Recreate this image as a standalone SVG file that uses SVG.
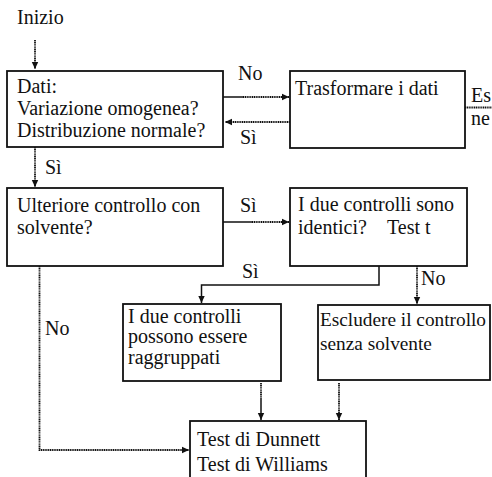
<svg xmlns="http://www.w3.org/2000/svg" width="492" height="477" viewBox="0 0 492 477" font-family="'Liberation Serif', 'DejaVu Serif', serif" font-size="20">
<style>
text{font-family:'Liberation Serif','DejaVu Serif',serif;font-size:20px;fill:#111}
.sm{font-size:19.3px}
.box{fill:#fff;stroke:#111;stroke-width:1.8}
.dot{fill:none;stroke:#111;stroke-width:1.8;stroke-dasharray:1.2 0.6}
.sol{fill:none;stroke:#111;stroke-width:1.5}
</style>
<defs>
<marker id="ah" markerUnits="userSpaceOnUse" markerWidth="8" markerHeight="8" refX="7" refY="4" orient="auto">
<path d="M0,0.8 L7,4 L0,7.2 z" fill="#111"/>
</marker>
</defs>
<text x="17" y="24">Inizio</text>
<g id="connectors">
<path class="dot" d="M35,40 V69" marker-end="url(#ah)"/>
<path class="sol" d="M223,97 H243"/>
<path class="dot" d="M243,97 H289" marker-end="url(#ah)"/>
<path class="dot" d="M290,122 H225" marker-end="url(#ah)"/>
<path class="dot" d="M465,107.5 H492"/>
<path class="dot" d="M35,147 V187" marker-end="url(#ah)"/>
<path class="sol" d="M223,222 H252"/>
<path class="dot" d="M252,222 H289" marker-end="url(#ah)"/>
<path class="sol" d="M379,266 V285 H201.5 V303" marker-end="url(#ah)"/>
<path class="dot" d="M417,266 V304" marker-end="url(#ah)"/>
<path class="dot" d="M39.5,266 V450 H189" marker-end="url(#ah)"/>
<path class="dot" d="M261,383 V398"/>
<path class="sol" d="M261,398 V420" marker-end="url(#ah)"/>
<path class="dot" d="M339,383 V420" marker-end="url(#ah)"/>
<text x="238" y="80">No</text>
<text x="240" y="144">Sì</text>
<text x="471" y="102">Es</text>
<text x="471" y="125">ne</text>
<text x="45" y="174">Sì</text>
<text x="240" y="212">Sì</text>
<text x="242" y="278">Sì</text>
<text x="421" y="285">No</text>
<text x="45" y="335">No</text>
</g>
<g id="dati">
<rect class="box" x="7" y="71" width="216" height="76"/>
<text x="17" y="93">Dati:</text>
<text x="17" y="115">Variazione omogenea?</text>
<text x="17" y="137">Distribuzione normale?</text>
</g>
<g id="trasformare">
<rect class="box" x="290" y="71" width="175" height="77"/>
<text x="295" y="95">Trasformare i dati</text>
</g>
<g id="ulteriore">
<rect class="box" x="7" y="188" width="216" height="78"/>
<text x="17" y="212">Ulteriore controllo con</text>
<text x="17" y="234">solvente?</text>
</g>
<g id="identici">
<rect class="box" x="290" y="188" width="177" height="78"/>
<text x="298" y="211">I due controlli sono</text>
<text x="298" y="234">identici?</text>
<text x="387" y="234">Test t</text>
</g>
<g id="raggruppati">
<rect class="box" x="123" y="304" width="158" height="77"/>
<text x="128" y="323">I due controlli</text>
<text x="128" y="343">possono essere</text>
<text x="128" y="364">raggruppati</text>
</g>
<g id="escludere">
<rect class="box" x="318" y="305" width="172" height="75"/>
<text class="sm" x="320" y="326">Escludere il controllo</text>
<text class="sm" x="320" y="350">senza solvente</text>
</g>
<g id="test">
<rect class="box" x="190" y="421" width="176" height="70"/>
<text x="197" y="446">Test di Dunnett</text>
<text x="197" y="471">Test di Williams</text>
</g>
</svg>
